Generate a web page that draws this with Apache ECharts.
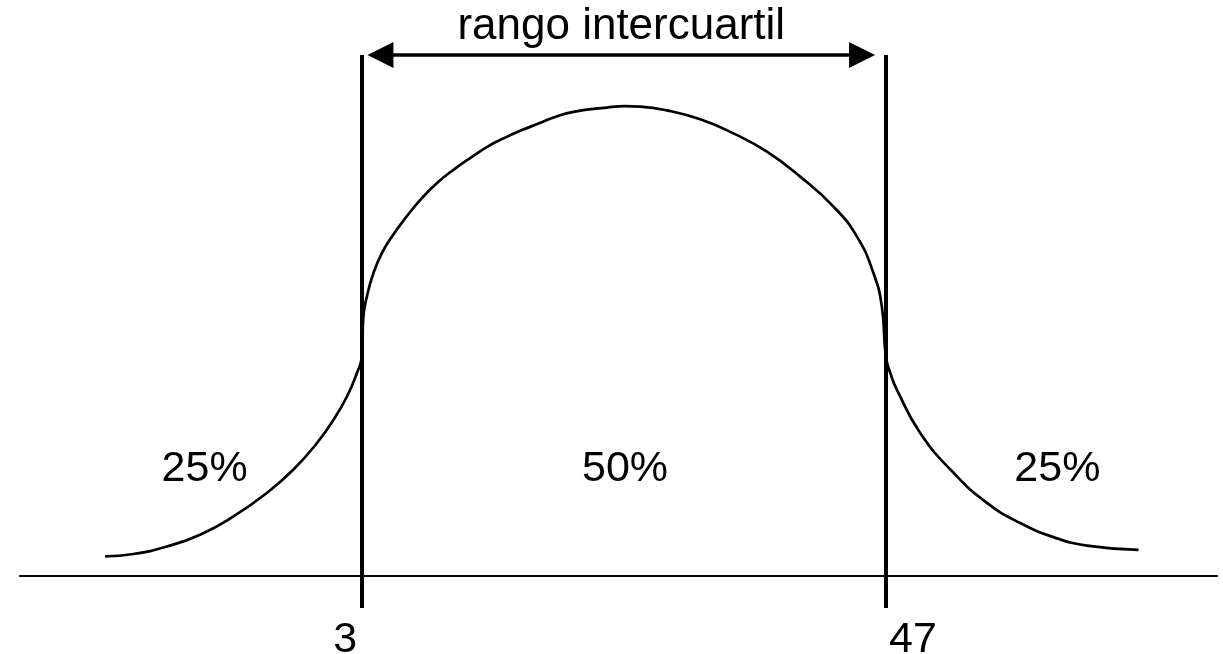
<!DOCTYPE html>
<html>
<head>
<meta charset="utf-8">
<script src="https://cdn.jsdelivr.net/npm/echarts@6/dist/echarts.min.js"></script>
<style>
  html, body { margin: 0; padding: 0; background: #fff; }
  #chart { width: 1223px; height: 654px; }
</style>
</head>
<body>
<div id="chart"></div>
<script>
// cuartiles (Q1, Q3)
var cuartiles = [3, 47];

// curva: x, densidad relativa (pico = 1)
var curvaX = [-18.55, -16.18, -13.37, -10.58, -7.78, -4.98, -2.74, -0.78, 0.62, 1.74, 2.58, 3.0,
  3.13, 3.42, 3.97, 4.68, 5.52, 6.64, 8.04, 9.43, 10.83, 12.24, 13.63, 15.03, 16.44, 17.83, 19.23,
  20.77, 23.57, 25.11, 26.37, 28.61, 31.41, 34.2, 37.01, 39.8, 42.6, 44.57, 45.96, 46.66, 47.0,
  47.42, 47.92, 49.88, 52.68, 55.48, 58.28, 61.07, 63.88, 68.21];
var curvaY = [0.041, 0.046, 0.062, 0.087, 0.126, 0.176, 0.226, 0.282, 0.332, 0.381, 0.431, 0.467,
  0.552, 0.594, 0.644, 0.687, 0.722, 0.761, 0.804, 0.839, 0.867, 0.892, 0.915, 0.933, 0.949, 0.963, 0.977,
  0.988, 0.997, 1.0, 0.999, 0.991, 0.972, 0.942, 0.903, 0.85, 0.786, 0.722, 0.644, 0.573, 0.467,
  0.428, 0.396, 0.304, 0.219, 0.155, 0.112, 0.082, 0.064, 0.055];

// extremos de la flecha del rango intercuartil (centro de cada punta)
var flechaX = [4.56, 45.0];

// porcentajes de cada zona
var zonaTexto = ['25%', '50%', '25%'];
var zonaX = [-10.2, 25.1, 61.4];
var zonaY = 0.226;

var xMin = -25.7, xMax = 74.8;
var yMin = -0.069, yMax = 1.109;

var fuente = 'Liberation Sans, Arial, sans-serif';

var curva = curvaX.map(function (x, i) { return [x, curvaY[i]]; });
var zonas = zonaX.map(function (x, i) { return [x, zonaY, zonaTexto[i]]; });

var myChart = echarts.init(document.getElementById('chart'));
myChart.setOption({
  animation: false,
  grid: { left: 20, right: 6, top: 55, bottom: 46, containLabel: false, outerBoundsMode: 'none' },
  xAxis: {
    type: 'value',
    min: xMin,
    max: xMax,
    axisLine: { onZero: true, lineStyle: { color: '#000', width: 2 } },
    axisTick: { show: false },
    splitLine: { show: false },
    axisLabel: {
      customValues: cuartiles,
      margin: 11,
      color: '#000',
      fontFamily: fuente,
      fontSize: 43,
      formatter: function (v) {
        return v === cuartiles[0] ? '{izq|' + v + '}' : '{der|' + v + '}';
      },
      rich: {
        izq: { fontFamily: fuente, fontSize: 43, color: '#000', padding: [0, 33, 0, 0] },
        der: { fontFamily: fuente, fontSize: 43, color: '#000', padding: [0, 0, 0, 54] }
      }
    }
  },
  yAxis: {
    type: 'value',
    min: yMin,
    max: yMax,
    show: false,
    splitLine: { show: false }
  },
  series: [
    {
      name: 'curva',
      type: 'line',
      data: curva,
      symbol: 'none',
      smooth: 0.5,
      lineStyle: { color: '#000', width: 2.7 },
      markLine: {
        silent: true,
        symbol: ['none', 'none'],
        label: { show: false },
        lineStyle: { color: '#000', width: 4, type: 'solid' },
        data: cuartiles.map(function (q) { return { xAxis: q }; })
      }
    },
    {
      name: 'rango',
      type: 'line',
      data: [],
      markLine: {
        silent: true,
        lineStyle: { color: '#000', width: 3.5, type: 'solid' },
        label: {
          show: true,
          position: 'middle',
          distance: 6,
          color: '#000',
          fontFamily: fuente,
          fontSize: 44,
          formatter: 'rango intercuartil'
        },
        data: [[
          { coord: [flechaX[0], yMax], symbol: 'triangle', symbolSize: [26, 26] },
          { coord: [flechaX[1], yMax], symbol: 'triangle', symbolSize: [26, 26] }
        ]]
      }
    },
    {
      name: 'zonas',
      type: 'scatter',
      data: zonas,
      symbolSize: 0,
      silent: true,
      itemStyle: { opacity: 1 },
      label: {
        show: true,
        position: 'inside',
        color: '#000',
        textBorderWidth: 0,
        fontFamily: fuente,
        fontSize: 43,
        formatter: function (p) { return p.value[2]; }
      }
    }
  ]
});
</script>
</body>
</html>
